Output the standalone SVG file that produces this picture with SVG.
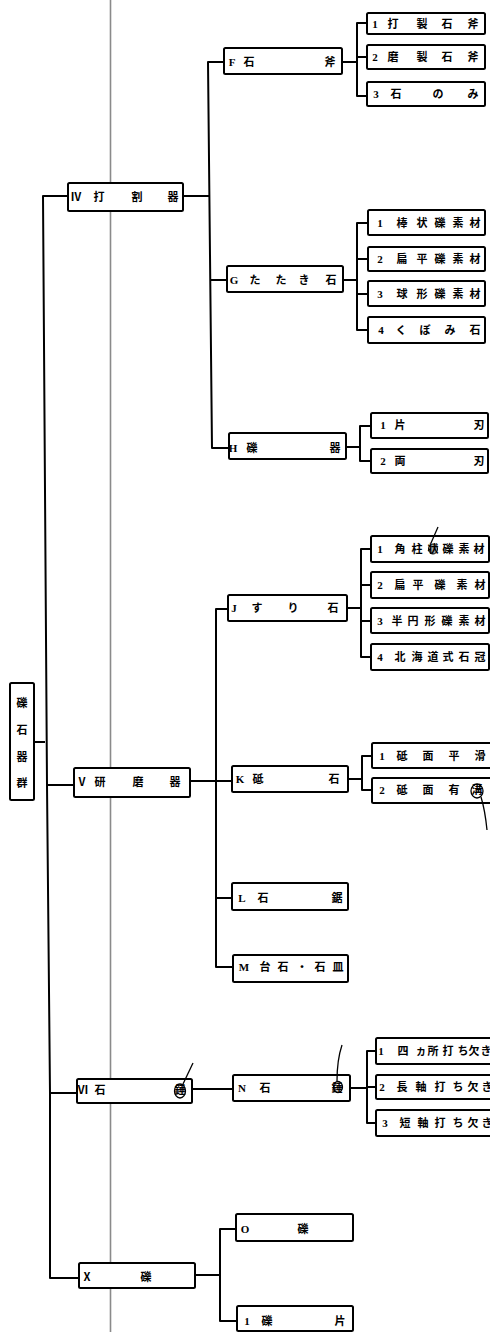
<svg xmlns="http://www.w3.org/2000/svg" width="490" height="1332" viewBox="0 0 490 1332">
<style>
.box{fill:#fff;stroke:#000;stroke-width:2}
.t{font-family:"Liberation Serif","Noto Sans CJK JP",serif;font-size:11px;font-weight:bold;fill:#000;text-anchor:middle}
.c{fill:none;stroke:#000;stroke-width:2;stroke-linejoin:round}
.m{fill:none;stroke:#000;stroke-width:1.3}
</style>
<rect x="0" y="0" width="490" height="1332" fill="#fff"/>
<line x1="110.5" y1="0" x2="110.5" y2="1332" stroke="#8a8a8a" stroke-width="1.6"/>
<g id="connectors" class="c">
<path d="M34,742 H45"/>
<path d="M68,196 H43 L47,785 L50,1093 L50,1278 H79"/>
<path d="M47,785 H74"/>
<path d="M50,1093 H77"/>
<path d="M183,196 H210"/>
<path d="M224,62 H208 L212,448 H229"/>
<path d="M210,280 H227"/>
<path d="M342,62 H357"/>
<path d="M367,23 H357 V96 H367"/>
<path d="M357,57 H367"/>
<path d="M343,280 H357"/>
<path d="M368,223 H357 V330 H368"/>
<path d="M357,259 H368"/>
<path d="M357,294 H368"/>
<path d="M346,447 H360"/>
<path d="M371,426 H360 V461 H371"/>
<path d="M190,781 H232"/>
<path d="M228,609 H216 V967 H233"/>
<path d="M216,898 H232"/>
<path d="M347,608 H361"/>
<path d="M371,549 H361 V657 H371"/>
<path d="M361,585 H371"/>
<path d="M361,621 H371"/>
<path d="M348,779 H362"/>
<path d="M372,756 H362 V790 H372"/>
<path d="M192,1089 H233"/>
<path d="M350,1088 H367"/>
<path d="M376,1051 H367 V1123 H376"/>
<path d="M367,1087 H376"/>
<path d="M195,1275 H220"/>
<path d="M236,1229 H220 V1321 H237"/>
</g>
<g id="root">
<rect class="box" x="10" y="683" width="24" height="117" rx="1.5"/>
<text class="t" x="22 22 22 22" y="707 734 761 787">礫石器群</text>
</g>
<g id="n-IV">
<rect class="box" x="68" y="183" width="115" height="28" rx="1.5"/>
<text class="t" x="76 99 137 173" y="201">Ⅳ打割器</text>
</g>
<g id="n-F">
<rect class="box" x="224" y="48" width="118" height="26" rx="1.5"/>
<text class="t" x="232 249 330" y="66">F石斧</text>
</g>
<g id="n-F1">
<rect class="box" x="367" y="13" width="118" height="21" rx="1.5"/>
<text class="t" x="375 393 422 447 473" y="28">1打製石斧</text>
</g>
<g id="n-F2">
<rect class="box" x="367" y="45" width="118" height="24" rx="1.5"/>
<text class="t" x="375 393 422 447 473" y="61">2磨製石斧</text>
</g>
<g id="n-F3">
<rect class="box" x="367" y="82" width="118" height="24" rx="1.5"/>
<text class="t" x="376 396 438 473" y="98">3石のみ</text>
</g>
<g id="n-G">
<rect class="box" x="227" y="266" width="116" height="26" rx="1.5"/>
<text class="t" x="234 255 281 304 331" y="284">Gたたき石</text>
</g>
<g id="n-G1">
<rect class="box" x="368" y="210" width="117" height="25" rx="1.5"/>
<text class="t" x="380 402 422 440 458 475" y="227">1棒状礫素材</text>
</g>
<g id="n-G2">
<rect class="box" x="368" y="247" width="117" height="24" rx="1.5"/>
<text class="t" x="380 402 422 440 458 475" y="263">2扁平礫素材</text>
</g>
<g id="n-G3">
<rect class="box" x="368" y="281" width="117" height="25" rx="1.5"/>
<text class="t" x="380 402 422 440 458 475" y="298">3球形礫素材</text>
</g>
<g id="n-G4">
<rect class="box" x="368" y="317" width="117" height="26" rx="1.5"/>
<text class="t" x="381 401 425 450 475" y="334">4くぼみ石</text>
</g>
<g id="n-H">
<rect class="box" x="229" y="433" width="117" height="26" rx="1.5"/>
<text class="t" x="233 252 335" y="452">H礫器</text>
</g>
<g id="n-H1">
<rect class="box" x="371" y="413" width="117" height="25" rx="1.5"/>
<text class="t" x="383 400 479" y="429">1片刃</text>
</g>
<g id="n-H2">
<rect class="box" x="371" y="449" width="117" height="24" rx="1.5"/>
<text class="t" x="383 400 479" y="465">2両刃</text>
</g>
<g id="n-V">
<rect class="box" x="74" y="768" width="116" height="29" rx="1.5"/>
<text class="t" x="82 100 138 175" y="786">Ⅴ研磨器</text>
</g>
<g id="n-J">
<rect class="box" x="228" y="595" width="119" height="26" rx="1.5"/>
<text class="t" x="234 257 293 333" y="612">Jすり石</text>
</g>
<g id="n-J1">
<rect class="box" x="371" y="536" width="118" height="26" rx="1.5"/>
<text class="t" x="380 400 417 433 448 464 479" y="553">1角柱状礫素材</text>
<path class="m" d="M438,527 L431,543"/>
<ellipse cx="433" cy="549" rx="4.5" ry="5" fill="#000" fill-opacity="0.35" stroke="#000" stroke-width="1"/>
</g>
<g id="n-J2">
<rect class="box" x="371" y="572" width="118" height="26" rx="1.5"/>
<text class="t" x="380 400 418 440 462 480" y="589">2扁平礫素材</text>
</g>
<g id="n-J3">
<rect class="box" x="371" y="608" width="118" height="25" rx="1.5"/>
<text class="t" x="380 397 413 430 447 464 480" y="625">3半円形礫素材</text>
</g>
<g id="n-J4">
<rect class="box" x="371" y="644" width="118" height="26" rx="1.5"/>
<text class="t" x="380 400 417 433 448 464 480" y="661">4北海道式石冠</text>
</g>
<g id="n-K">
<rect class="box" x="232" y="766" width="116" height="26" rx="1.5"/>
<text class="t" x="240 258 334" y="783">K砥石</text>
</g>
<g id="n-K1">
<rect class="box" x="372" y="743" width="120" height="25" rx="1.5"/>
<text class="t" x="382 402 428 454 480" y="760">1砥面平滑</text>
</g>
<g id="n-K2">
<rect class="box" x="372" y="778" width="120" height="25" rx="1.5"/>
<text class="t" x="382 402 428 454 477" y="794">2砥面有溝</text>
<ellipse class="m" cx="477" cy="791" rx="6" ry="7"/>
<path class="m" d="M481,797 Q485,810 487,830"/>
</g>
<g id="n-L">
<rect class="box" x="232" y="883" width="116" height="27" rx="1.5"/>
<text class="t" x="242 263 337" y="902">L石鋸</text>
</g>
<g id="n-M">
<rect class="box" x="233" y="955" width="115" height="27" rx="1.5"/>
<text class="t" x="244 265 283 302 320 338" y="971">M台石・石皿</text>
</g>
<g id="n-VI">
<rect class="box" x="77" y="1079" width="115" height="24" rx="1.5"/>
<text class="t" x="83 100 180" y="1094">Ⅵ石錘</text>
<ellipse class="m" cx="180" cy="1091" rx="5.5" ry="7"/>
<path class="m" d="M183,1084 L193,1063"/>
</g>
<g id="n-N">
<rect class="box" x="233" y="1075" width="117" height="26" rx="1.5"/>
<text class="t" x="242 265 337" y="1092">N石錘</text>
<ellipse class="m" cx="338" cy="1087" rx="4.5" ry="5.5"/>
<path class="m" d="M337,1081 Q337,1060 342,1045"/>
</g>
<g id="n-N1">
<rect class="box" x="376" y="1038" width="120" height="26" rx="1.5"/>
<text class="t" x="381 403 421 433 448 463 474 486" y="1055">1四ヵ所打ち欠き</text>
</g>
<g id="n-N2">
<rect class="box" x="376" y="1075" width="120" height="24" rx="1.5"/>
<text class="t" x="382 402 421 440 458 473 487" y="1091">2長軸打ち欠き</text>
</g>
<g id="n-N3">
<rect class="box" x="376" y="1110" width="120" height="26" rx="1.5"/>
<text class="t" x="385 405 423 440 458 473 487" y="1127">3短軸打ち欠き</text>
</g>
<g id="n-X">
<rect class="box" x="79" y="1263" width="116" height="25" rx="1.5"/>
<text class="t" x="87 146" y="1281">Ⅹ礫</text>
</g>
<g id="n-O">
<rect class="box" x="236" y="1214" width="117" height="27" rx="1.5"/>
<text class="t" x="245 303" y="1233">O礫</text>
</g>
<g id="n-O1">
<rect class="box" x="237" y="1306" width="116" height="25" rx="1.5"/>
<text class="t" x="247 267 340" y="1325">1礫片</text>
</g>
</svg>
